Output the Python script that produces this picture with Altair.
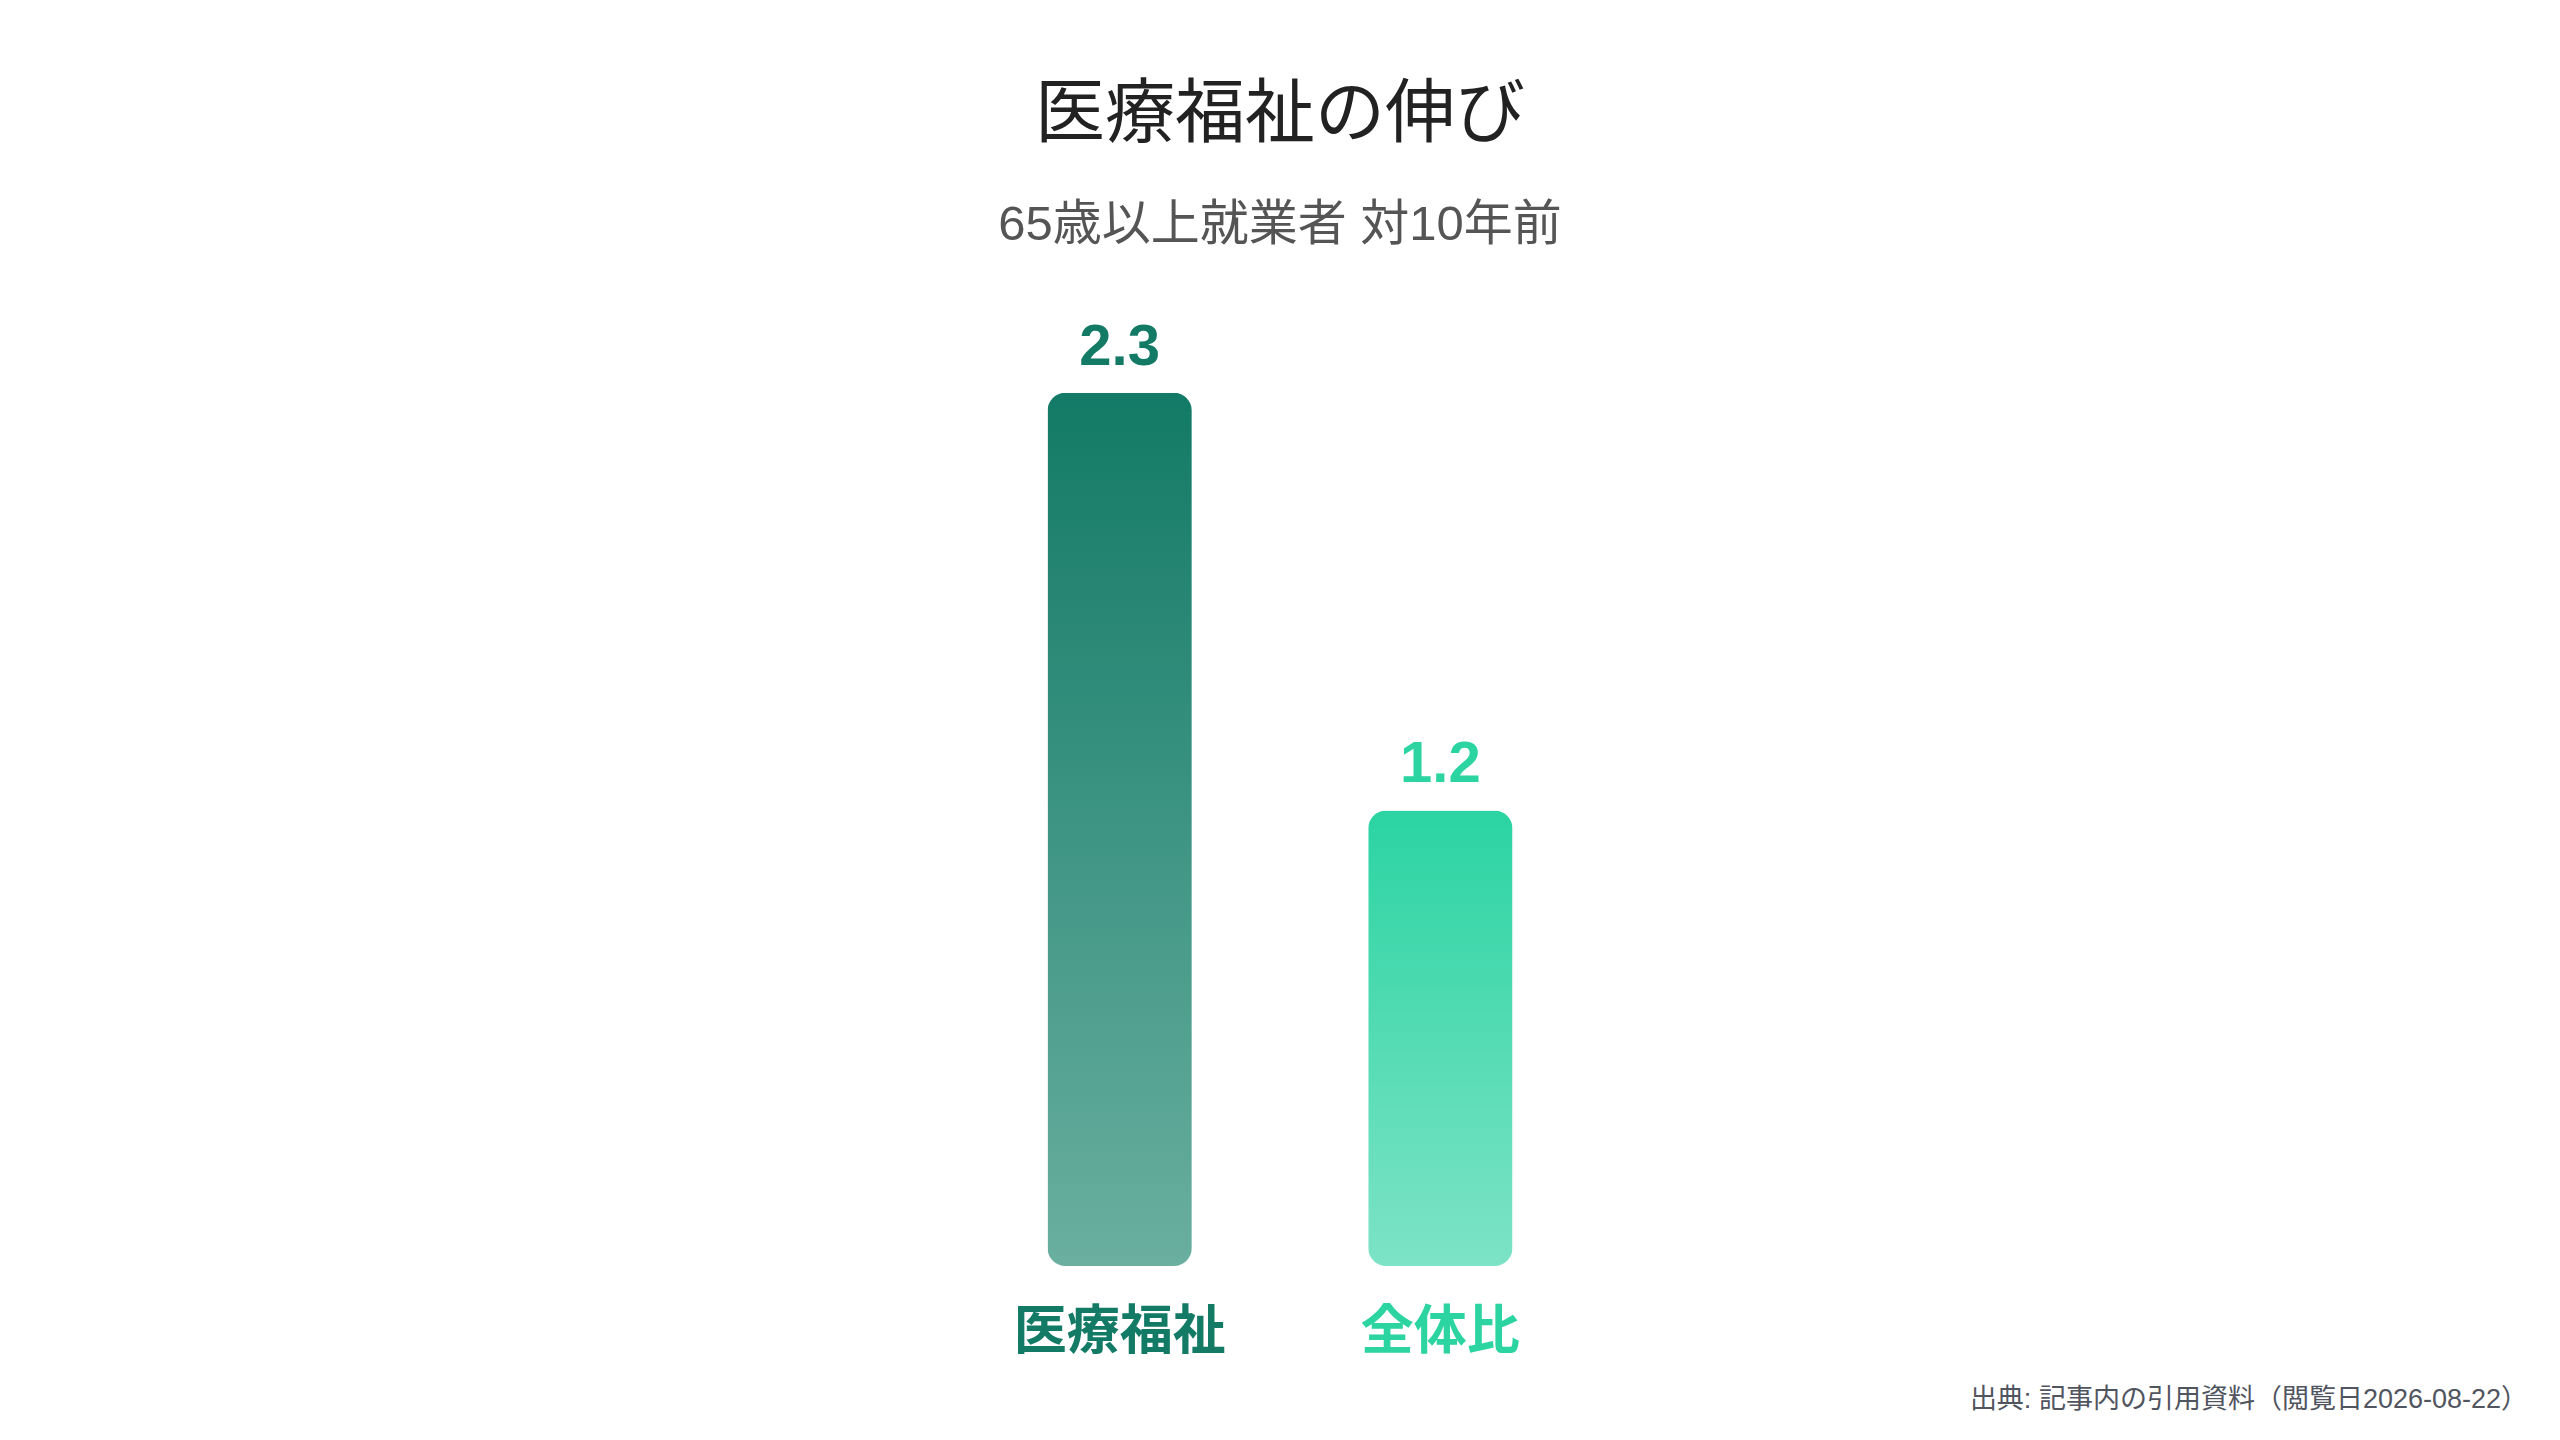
import altair as alt
import pandas as pd

# ---- data ----
categories = ["医療福祉", "全体比"]
values = [2.3, 1.2]
top_colors = ["#127A66", "#2BD4A2"]
bottom_colors = ["#6AAFA0", "#7DE3C6"]
label_colors = ["#137A66", "#2BD4A0"]

title_text = "医療福祉の伸び"
subtitle_text = "65歳以上就業者 対10年前"
source_text = "出典: 記事内の引用資料（閲覧日2026-08-22）"

FONT = "Liberation Sans, Noto Sans CJK JP"

df = pd.DataFrame({"cat": categories, "value": values})
src_df = pd.DataFrame({"t": [source_text]})


def grad(top, bottom):
    return {
        "gradient": "linear",
        "x1": 0, "y1": 0, "x2": 0, "y2": 1,
        "stops": [{"offset": 0, "color": top}, {"offset": 1, "color": bottom}],
    }


W, H = 2544, 1006
band_span = 465  # pixel span of the two bands (step ~321, bar ~145)

x_enc = alt.X("cat:N", sort=categories,
              scale=alt.Scale(range=[W / 2 - band_span / 2, W / 2 + band_span / 2],
                              paddingInner=0.55, paddingOuter=0),
              axis=None)
y_enc = alt.Y("value:Q", scale=alt.Scale(domain=[0, 2.65], nice=False), axis=None)
color_enc = alt.Color("cat:N", scale=alt.Scale(domain=categories, range=label_colors), legend=None)

base = alt.Chart(df)

bars = base.mark_bar(cornerRadius=18).encode(
    x=x_enc,
    y=y_enc,
    fill=alt.condition(alt.datum.cat == categories[0],
                       alt.value(grad(top_colors[0], bottom_colors[0])),
                       alt.value(grad(top_colors[1], bottom_colors[1]))),
)

value_labels = base.mark_text(font=FONT, fontSize=58, fontWeight="bold",
                              baseline="alphabetic", dy=-28).encode(
    x=x_enc, y=y_enc, text=alt.Text("value:Q", format=".1f"), color=color_enc,
)

cat_labels = base.mark_text(font=FONT, fontSize=53, fontWeight="bold",
                            baseline="top", dy=41).encode(
    x=x_enc, y=alt.datum(0), text="cat:N", color=color_enc,
)

source = alt.Chart(src_df).mark_text(font=FONT, fontSize=27, color="#50555f",
                                     align="right", baseline="alphabetic").encode(
    x=alt.value(2520), y=alt.value(1148), text="t:N",
)

chart = alt.layer(bars, value_labels, cat_labels, source).properties(
    width=W,
    height=H,
    padding={"top": 252, "left": 0, "right": 0, "bottom": 162},
    autosize=alt.AutoSizeParams(type="none"),
    title=alt.TitleParams(
        text=title_text,
        subtitle=subtitle_text,
        anchor="middle",
        frame="group",
        font=FONT,
        fontSize=70,
        fontWeight="normal",
        color="#222222",
        subtitleFont=FONT,
        subtitleFontSize=49,
        subtitleColor="#555555",
        subtitlePadding=49,
        offset=9,
    ),
).configure(background="white").configure_view(strokeWidth=0, stroke="transparent")

chart.save("out.html", embed_options={"renderer": "svg", "actions": False})
